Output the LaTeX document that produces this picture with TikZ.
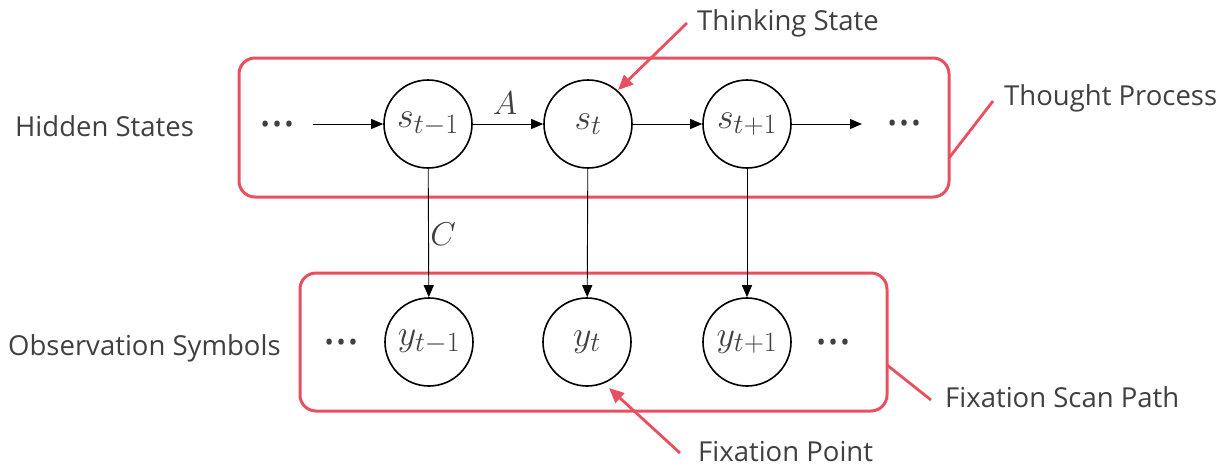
\RequirePackage{fix-cm}
\documentclass[tikz,border=0pt]{standalone}
\usepackage{fontspec}
\setmainfont{Open Sans}
\DeclareMathSizes{36}{36}{28}{22}
\usetikzlibrary{arrows.meta}
\definecolor{redc}{HTML}{E8505F}
\definecolor{txt}{HTML}{404040}
\tikzset{
  state/.style={circle, draw, line width=1.6pt, minimum size=88pt, inner sep=0pt,
    font=\fontsize{36}{40}\selectfont, text=txt},
  lab/.style={anchor=base west, font=\fontsize{27.5}{32}\selectfont, text=txt, inner sep=0pt},
  dots/.style={font=\fontsize{46}{50}\selectfont, text=txt, inner sep=0pt},
  mathlab/.style={font=\fontsize{33}{38}\selectfont, text=txt, inner sep=0pt},
  flow/.style={-{Triangle[length=12pt,width=10pt]}, line width=0.9pt},
  callout/.style={draw=redc, line width=2.8pt, -{Triangle[length=15pt,width=13pt]}, color=redc},
  plainred/.style={draw=redc, line width=2.8pt},
  group/.style={draw=redc, line width=3pt, rounded corners=16pt}
}
\begin{document}
\begin{tikzpicture}[x=1pt,y=-1pt]
\useasboundingbox (0,0) rectangle (1226,467);
% groups
\draw[group] (239,58) rectangle (949,197);
\draw[group] (300,273) rectangle (887,411);
% states
\node[state] (s1) at (428,124) {$s_{t-1}$};
\node[state] (s2) at (588,124) {$s_{t}$};
\node[state] (s3) at (747,124) {$s_{t+1}$};
\node[state] (y1) at (429,342) {$y_{t-1}$};
\node[state] (y2) at (587,342) {$y_{t}$};
\node[state] (y3) at (747,342) {$y_{t+1}$};
% dots
\node[dots] (dl) at (278,124) {…};
\node[dots] (dr) at (905,123) {…};
\node[dots] (ol) at (342,342) {…};
\node[dots] (or) at (834,342) {…};
\coordinate (a0) at (313,124);
\coordinate (a4) at (862,124);
% arrows
\draw[flow] (a0) -- (s1);
\draw[flow] (s1) -- (s2);
\draw[flow] (s2) -- (s3);
\draw[flow] (s3) -- (a4);
\draw[flow] (s1) -- (y1);
\draw[flow] (s2) -- (y2);
\draw[flow] (s3) -- (y3);
\node[mathlab] (A) at (505,103) {$A$};
\node[mathlab] (C) at (443,234) {$C$};
% labels
\node[lab] (hs) at (15,136) {Hidden States};
\node[lab] (os) at (8,355) {Observation Symbols};
\node[lab] (ts) at (697,30) {Thinking State};
\node[lab] (tp) at (1004,105) {Thought Process};
\node[lab] (fs) at (945,407) {Fixation Scan Path};
\node[lab] (fp) at (698,461) {Fixation Point};
% callouts
\coordinate (c1a) at (687,23);
\coordinate (c1b) at (618,90);
\draw[callout] (c1a) -- (c1b);
\coordinate (c2a) at (993,101);
\coordinate (c2b) at (949,158);
\draw[plainred] (c2a) -- (c2b);
\coordinate (c3a) at (887,365);
\coordinate (c3b) at (931,400);
\draw[plainred] (c3a) -- (c3b);
\coordinate (c4a) at (680,453);
\coordinate (c4b) at (609,388);
\draw[callout] (c4a) -- (c4b);
\end{tikzpicture}
\end{document}
